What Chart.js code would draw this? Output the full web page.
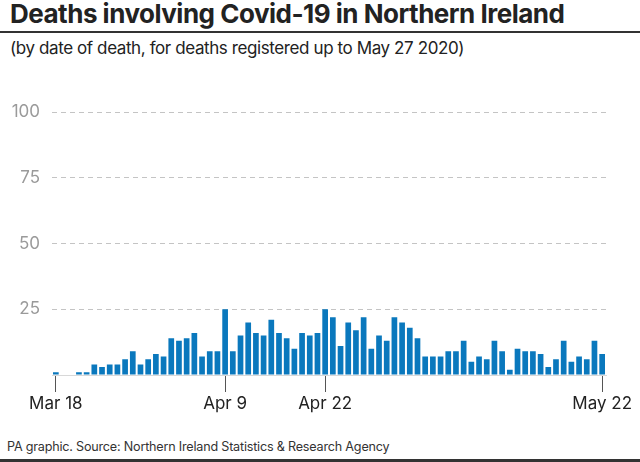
<!DOCTYPE html>
<html>
<head>
<meta charset="utf-8">
<script src="https://cdn.jsdelivr.net/npm/chart.js@4"></script>
<style>
  html, body { margin: 0; padding: 0; background: #fff; }
  body { width: 640px; height: 462px; position: relative; overflow: hidden; font-family: Inter, "Open Sans", sans-serif; color: #222; }
  #title { position: absolute; left: 10px; top: -1px; font-size: 26px; font-weight: 700; letter-spacing: -0.5px; line-height: 30px; white-space: nowrap; }
  #rule { position: absolute; left: 0; top: 31px; width: 640px; height: 2px; background: #333; }
  #subtitle { position: absolute; left: 10px; top: 37px; font-size: 17px; letter-spacing: -0.4px; line-height: 22px; white-space: nowrap; }
  #footer { position: absolute; left: 7px; top: 438px; font-size: 12.6px; letter-spacing: -0.2px; line-height: 18px; color: #333; white-space: nowrap; }
  #bottomrule { position: absolute; left: 0; top: 459px; width: 640px; height: 3px; background: #333; }
  #wrap { position: absolute; left: 0; top: 90px; width: 640px; height: 331px; }
</style>
</head>
<body>
<div id="title">Deaths involving Covid-19 in Northern Ireland</div>
<div id="rule"></div>
<div id="subtitle">(by date of death, for deaths registered up to May 27 2020)</div>
<div id="wrap"><canvas id="c" width="640" height="331"></canvas></div>
<div id="footer">PA graphic. Source: Northern Ireland Statistics &amp; Research Agency</div>
<div id="bottomrule"></div>
<script>
const categories = [
  'Mar 18','','','','','','','','','','','','','','','','','','','','','',
  'Apr 9','','','','','','','','','','','','',
  'Apr 22','','','','','','','','','','','','','','','','','','','','','','','','','','','','','','','','','','','',
  'May 22'
];
const deaths = [
  1,0,0,1,1,4,3,4,4,6,9,4,6,8,7,14,13,14,16,7,9,9,
  25,9,15,20,16,15,21,16,14,10,16,15,16,
  25,22,11,20,17,22,10,15,13,22,20,18,14,7,7,7,9,9,13,5,7,6,13,9,2,10,9,9,8,3,6,13,5,7,6,13,
  8
];
const yTicks = [0, 25, 50, 75, 100];

const ctx = document.getElementById('c');
new Chart(ctx, {
  type: 'bar',
  data: {
    labels: categories,
    datasets: [{
      data: deaths,
      backgroundColor: '#0a78bd',
      borderWidth: 0,
      barPercentage: 0.74,
      categoryPercentage: 1.0
    }]
  },
  options: {
    responsive: false,
    animation: false,
    devicePixelRatio: 1,
    layout: { padding: { top: 18, right: 34, left: 0, bottom: 0 } },
    plugins: { legend: { display: false }, tooltip: { enabled: false }, title: { display: false } },
    scales: {
      x: {
        offset: true,
        afterFit: s => { s.height = 46; },
        border: { display: true, color: '#d8d8d8', width: 1 },
        grid: {
          display: true,
          drawOnChartArea: false,
          drawTicks: true,
          tickLength: 17,
          offset: false,
          lineWidth: 1,
          color: c => (categories[c.index] ? '#555' : 'rgba(0,0,0,0)')
        },
        ticks: {
          autoSkip: false,
          maxRotation: 0,
          minRotation: 0,
          padding: 2,
          color: '#222',
          font: { family: 'Inter', size: 17 },
          callback: (v, i) => categories[i]
        }
      },
      y: {
        min: 0,
        max: 100,
        afterFit: s => { s.width = 52; },
        afterBuildTicks: s => { s.ticks = yTicks.map(v => ({ value: v })); },
        border: { display: false, dash: [5, 4] },
        grid: {
          drawTicks: false,
          color: c => (c.tick && c.tick.value === 0 ? 'rgba(0,0,0,0)' : '#c4c4c4'),
          lineWidth: 1
        },
        ticks: {
          padding: 12,
          color: '#9a9a9a',
          font: { family: 'Inter', size: 17 },
          callback: v => (v === 0 ? '' : String(v))
        }
      }
    }
  }
});
</script>
</body>
</html>
